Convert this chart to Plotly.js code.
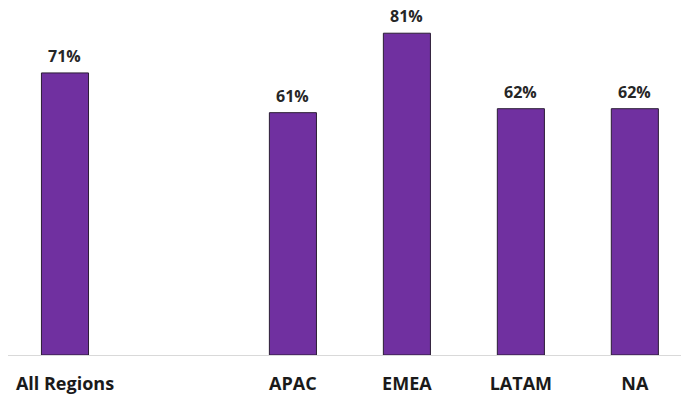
<!DOCTYPE html>
<html>
<head>
<meta charset="utf-8">
<script src="https://cdn.plot.ly/plotly-3.0.1.min.js"></script>
<style>html,body{margin:0;padding:0;background:#fff;}#chart{width:681px;height:394px;}</style>
</head>
<body>
<div id="chart"></div>
<script>
const categories = ["All Regions", " ", "APAC", "EMEA", "LATAM", "NA"];
const values = [71, null, 61, 81, 62, 62];
const valueLabels = ["71%", "", "61%", "81%", "62%", "62%"];

const trace = {
  type: 'bar',
  x: categories,
  y: values,
  marker: {color: '#7030A0', line: {color: '#2b1d35', width: 1}},
  hoverinfo: 'skip'
};

const annotations = categories.map((c, i) => values[i] == null ? null : ({
  x: c, y: values[i], xref: 'x', yref: 'y',
  text: '<b>' + valueLabels[i] + '</b>',
  showarrow: false, yanchor: 'bottom', yshift: 4,
  font: {family: '"Open Sans", Arial, sans-serif', size: 16, color: '#262626'}
})).filter(a => a);

const layout = {
  width: 681, height: 394,
  margin: {l: 8, r: 0, t: 5, b: 39},
  paper_bgcolor: '#fff', plot_bgcolor: '#fff',
  showlegend: false,
  bargap: 0.587,
  xaxis: {
    type: 'category', categoryorder: 'array', categoryarray: categories,
    range: [-0.5, 5.405],
    showline: true, linecolor: '#d9d9d9', linewidth: 1,
    showgrid: false, zeroline: false, ticks: '',
    ticklabelstandoff: 12,
    tickfont: {family: '"Open Sans", Arial, sans-serif', size: 18, color: '#1a1a1a', weight: 'bold'}
  },
  yaxis: {
    range: [0, 88.1], visible: false, showgrid: false, zeroline: false
  },
  annotations: annotations
};

Plotly.newPlot('chart', [trace], layout, {displayModeBar: false, staticPlot: true});
</script>
</body>
</html>
